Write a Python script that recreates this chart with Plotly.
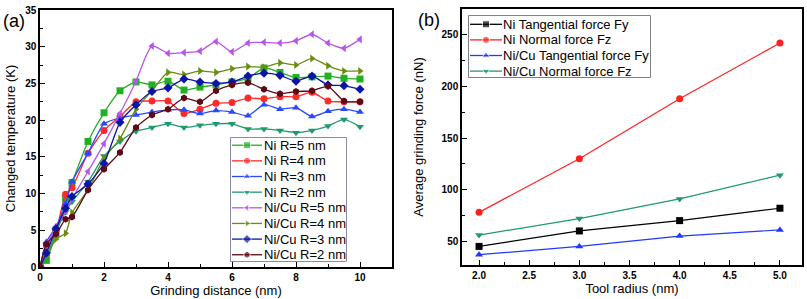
import plotly.graph_objects as go

# ---------- Data: panel (a) ----------
distance = [0, 0.2, 0.5, 0.8, 1, 1.5, 2, 2.5, 3, 3.5, 4, 4.5, 5, 5.5, 6, 6.5, 7, 7.5, 8, 8.5, 9, 9.5, 10]
ni_r5 = [0, 0.9, 4.6, 9.3, 11.5, 17.1, 21.0, 24.0, 25.2, 24.8, 25.3, 24.1, 24.5, 24.8, 25.2, 25.7, 27.1, 26.5, 25.8, 25.9, 26.0, 25.7, 25.6]
ni_r4 = [0, 3.0, 5.0, 9.9, 10.8, 15.5, 18.6, 20.5, 22.5, 22.6, 22.6, 20.9, 21.5, 22.3, 22.4, 23.0, 22.9, 23.2, 23.2, 23.8, 22.6, 22.5, 22.5]
ni_r3 = [0, 3.4, 5.5, 8.6, 11.6, 15.5, 19.5, 20.3, 20.7, 21.1, 21.4, 21.4, 20.9, 21.3, 21.1, 20.6, 22.1, 21.5, 21.7, 20.5, 21.2, 21.5, 21.1]
ni_r2 = [0, 1.4, 4.8, 7.5, 8.9, 11.6, 15.1, 17.1, 18.5, 19.0, 19.5, 19.0, 19.3, 19.5, 19.5, 18.8, 18.8, 18.6, 18.3, 18.6, 19.2, 20.1, 19.1]
nicu_r5 = [0, 2.7, 5.5, 7.6, 9.3, 13.0, 16.8, 20.9, 25.3, 30.1, 29.1, 29.2, 29.4, 30.7, 29.3, 30.5, 30.6, 30.5, 30.8, 31.7, 30.5, 29.8, 31.0]
nicu_r4 = [0, 1.5, 3.8, 4.6, 7.4, 10.5, 14.8, 17.5, 21.5, 24.0, 26.5, 26.2, 26.7, 26.5, 27.0, 27.3, 27.2, 27.8, 27.5, 28.4, 27.4, 26.7, 26.7]
nicu_r3 = [0, 1.9, 5.2, 8.0, 9.6, 11.3, 14.1, 19.7, 22.1, 23.9, 24.4, 25.6, 25.2, 25.0, 25.2, 26.0, 26.4, 26.1, 25.3, 26.0, 24.8, 24.7, 24.2]
nicu_r2 = [0, 3.1, 4.5, 6.5, 6.8, 10.5, 13.3, 15.6, 19.0, 20.7, 21.5, 23.0, 22.5, 24.0, 24.8, 25.1, 24.2, 23.6, 23.9, 24.0, 24.6, 22.6, 22.5]
names_a = ["Ni R=5 nm", "Ni R=4 nm", "Ni R=3 nm", "Ni R=2 nm",
           "Ni/Cu R=5 nm", "Ni/Cu R=4 nm", "Ni/Cu R=3 nm", "Ni/Cu R=2 nm"]
values_a = [ni_r5, ni_r4, ni_r3, ni_r2, nicu_r5, nicu_r4, nicu_r3, nicu_r2]

# ---------- Data: panel (b) ----------
radius = [2.0, 3.0, 4.0, 5.0]
ni_fy = [45, 60, 70, 82]
ni_fz = [78, 130, 188, 242]
nicu_fy = [37, 45, 55, 61]
nicu_fz = [56, 72, 91, 114]
names_b = ["Ni Tangential force Fy", "Ni Normal force Fz",
           "Ni/Cu Tangential force Fy", "Ni/Cu Normal force Fz"]
values_b = [ni_fy, ni_fz, nicu_fy, nicu_fz]

# ---------- Styles ----------
colors_a = ["#22b022", "#ff2a2a", "#2a48ff", "#1e9a6e", "#b855ee", "#6a8c12", "#0a14a8", "#5e0a16"]
symbols_a = ["square", "circle", "triangle-up", "triangle-down",
             "triangle-left", "triangle-right", "diamond", "hexagon"]
colors_b = ["#000000", "#ff2020", "#2038ff", "#1e9a6e"]
symbols_b = ["square", "circle", "triangle-up", "triangle-down"]

W, H = 807, 299
ML, MR, MT, MB = 40, 5, 9, 32
PW, PH = W - ML - MR, H - MT - MB


def px_x(p):
    return (p - ML) / PW


def px_y(p):
    return (H - MB - p) / PH


FONT = "Liberation Sans, Arial"
fig = go.Figure()

for name, ys, col, sym in zip(names_a, values_a, colors_a, symbols_a):
    fig.add_trace(go.Scatter(
        x=distance, y=ys, name=name, mode="lines+markers", showlegend=False,
        line=dict(color=col, width=1.3, shape="spline", smoothing=0.6),
        marker=dict(symbol=sym, size=7, color=col),
        xaxis="x", yaxis="y"))

for name, ys, col, sym in zip(names_b, values_b, colors_b, symbols_b):
    fig.add_trace(go.Scatter(
        x=radius, y=ys, name=name, mode="lines+markers", showlegend=False,
        line=dict(color=col, width=1.2),
        marker=dict(symbol=sym, size=7, color=col),
        xaxis="x2", yaxis="y2"))

# ---------- Legend boxes (drawn on overlay axes in pixel units) ----------
annotations = []


def add_legend(names, colors, symbols, box, first, step, line_end, text_x, ax_id, border):
    x0, x1, y0, y1 = box
    bw, bh = x1 - x0, y1 - y0
    xa, ya = "x%d" % ax_id, "y%d" % ax_id
    fig.add_trace(go.Scatter(
        x=[0.5, bw - 0.5, bw - 0.5, 0.5, 0.5], y=[0.5, 0.5, bh - 0.5, bh - 0.5, 0.5],
        mode="lines", fill="toself", fillcolor="white",
        line=dict(color=border, width=1), showlegend=False, hoverinfo="skip",
        xaxis=xa, yaxis=ya))
    for i, (nm, col, sym) in enumerate(zip(names, colors, symbols)):
        yc = first + i * step
        fig.add_trace(go.Scatter(
            x=[2, line_end / 2 + 1, line_end], y=[yc, yc, yc], mode="lines+markers",
            line=dict(color=col, width=1.3),
            marker=dict(symbol=sym, size=[0, 7, 0], color=col),
            showlegend=False, hoverinfo="skip", xaxis=xa, yaxis=ya))
        annotations.append(dict(
            text=nm, x=text_x, y=yc, xref=xa, yref=ya, xanchor="left", yanchor="middle",
            showarrow=False, font=dict(family=FONT, size=13, color="black")))
    axis = dict(domain=[px_x(x0), px_x(x1)], visible=False, fixedrange=True)
    fig.update_layout(**{
        "xaxis%d" % ax_id: dict(axis, range=[0, bw], anchor=ya),
        "yaxis%d" % ax_id: dict(domain=[px_y(y1), px_y(y0)], visible=False, fixedrange=True,
                                range=[bh, 0], anchor=xa),
    })


add_legend(names_a, colors_a, symbols_a, (230, 347, 137, 262), 8.2, 15.65, 32, 32, 3, "#8a8aa8")
add_legend(names_b, colors_b, symbols_b, (468, 651, 15, 78), 9.3, 15.6, 34, 33, 4, "#808080")

# ---------- Axes ----------
tickfont = dict(family=FONT, size=10, color="black", weight="bold")
titlefont = dict(family=FONT, size=13, color="black")
common = dict(
    showgrid=False, zeroline=False, showline=True, linecolor="black", linewidth=1.5,
    mirror=True, ticks="inside", ticklen=5, tickcolor="black", tickwidth=1.2,
    tickfont=tickfont, title_font=titlefont, automargin=False,
)

fig.update_layout(
    xaxis=dict(common, domain=[px_x(40), px_x(392)], range=[0, 11], tick0=0, dtick=2,
               anchor="y",
               minor=dict(ticks="inside", ticklen=3, dtick=1, tickcolor="black"),
               title=dict(text="Grinding distance (nm)", standoff=3)),
    yaxis=dict(common, domain=[px_y(267), px_y(10)], range=[0, 35], tick0=0, dtick=5,
               anchor="x",
               minor=dict(ticks="inside", ticklen=3, dtick=2.5, tickcolor="black"),
               title=dict(text="Changed temperature (K)", standoff=7)),
    xaxis2=dict(common, domain=[px_x(462), px_x(802)], range=[1.83, 5.22], tick0=2, dtick=0.5,
                tickformat=".1f", anchor="y2",
                minor=dict(ticks="inside", ticklen=3, dtick=0.25, tickcolor="black"),
                title=dict(text="Tool radius (nm)", standoff=3)),
    yaxis2=dict(common, domain=[px_y(265), px_y(9)], range=[27, 275], tick0=0, dtick=50,
                anchor="x2",
                minor=dict(ticks="inside", ticklen=3, dtick=25, tickcolor="black"),
                title=dict(text="Average grinding force (nN)", standoff=15)),
)

annotations += [
    dict(text="(a)", x=px_x(1), y=px_y(21), xref="paper", yref="paper",
         xanchor="left", yanchor="middle", showarrow=False,
         font=dict(family=FONT, size=18, color="black")),
    dict(text="(b)", x=px_x(416), y=px_y(20), xref="paper", yref="paper",
         xanchor="left", yanchor="middle", showarrow=False,
         font=dict(family=FONT, size=18, color="black")),
]

fig.update_layout(
    width=W, height=H,
    margin=dict(l=ML, r=MR, t=MT, b=MB, autoexpand=False),
    paper_bgcolor="white", plot_bgcolor="white",
    showlegend=False,
    annotations=annotations,
)

fig.write_html(
    "out.html",
    config={"displayModeBar": False},
    post_script="document.body.style.margin='0';document.body.style.overflow='hidden';",
)
